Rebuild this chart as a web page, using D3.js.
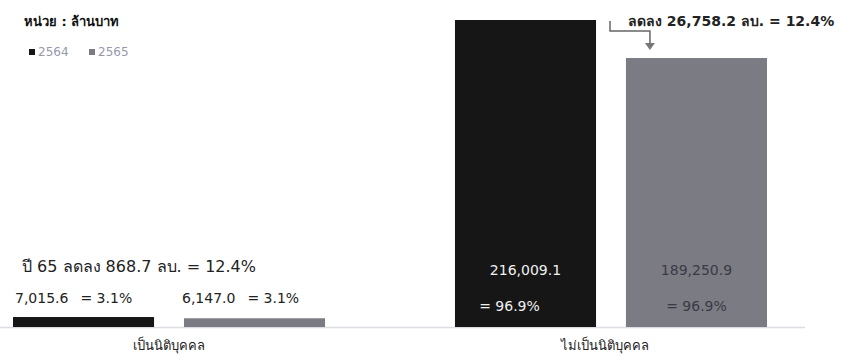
<!DOCTYPE html>
<html><head><meta charset="utf-8">
<script src="https://cdn.jsdelivr.net/npm/d3@7"></script>
<style>
body{margin:0;background:#fff;}
svg{display:block;font-family:"DejaVu Sans", Verdana, sans-serif;}
</style></head>
<body><svg id="c" width="849" height="360"></svg>
<script>
const categories = ["เป็นนิติบุคคล", "ไม่เป็นนิติบุคคล"];
const years = ["2564", "2565"];
const values2564 = [7015.6, 216009.1];
const values2565 = [6147.0, 189250.9];
const shares2564 = ["3.1%", "96.9%"];
const shares2565 = ["3.1%", "96.9%"];
const unitLabel = "หน่วย : ล้านบาท";
const changeNotes = ["ปี 65 ลดลง 868.7 ลบ. = 12.4%", "ลดลง 26,758.2 ลบ. = 12.4%"];

const colors = {"2564": "#161616", "2565": "#7b7b84"};
const svg = d3.select("#c");
const fmt = d3.format(",.1f");

const x0 = d3.scaleBand().domain(categories).range([13, 767]).paddingInner(0.294).paddingOuter(0);
const x1 = d3.scaleBand().domain(years).range([0, x0.bandwidth()]).paddingInner(0.175).paddingOuter(0);
const y = d3.scaleLinear().domain([0, d3.max(values2564)]).range([327, 20]);

const data = categories.map((c, i) => ({
  cat: c,
  vals: [
    {year: "2564", v: values2564[i], s: shares2564[i]},
    {year: "2565", v: values2565[i], s: shares2565[i]}
  ]
}));

// baseline
svg.append("line").attr("x1", 0).attr("x2", 805).attr("y1", 327.5).attr("y2", 327.5)
  .attr("stroke", "#dcdde2").attr("stroke-width", 1.5);

const g = svg.selectAll("g.cat").data(data).join("g").attr("class", "cat")
  .attr("transform", d => `translate(${x0(d.cat)},0)`);

g.selectAll("rect").data(d => d.vals).join("rect")
  .attr("x", d => x1(d.year)).attr("width", x1.bandwidth())
  .attr("y", d => y(d.v)).attr("height", d => y(0) - y(d.v))
  .attr("fill", d => colors[d.year]);

// category labels
const xAxis = d3.axisBottom(x0).tickSize(0).tickPadding(0);
const ax = svg.append("g").attr("transform", "translate(0,341)").call(xAxis);
ax.select(".domain").remove();
ax.selectAll("text").attr("font-size", 13).attr("fill", "#222")
  .attr("dx", (d, i) => i === 0 ? 0 : -6);

// small bars labels (outside, above)
const small = data[0];
small.vals.forEach(d => {
  const t = svg.append("text")
    .attr("x", x0(small.cat) + x1(d.year) + (d.year === "2564" ? 2 : -2))
    .attr("y", 303).attr("font-size", 14).attr("fill", "#222");
  t.append("tspan").text(fmt(d.v));
  t.append("tspan").attr("dx", 12).text("= " + d.s);
});

// big bars labels (inside)
const big = data[1];
big.vals.forEach(d => {
  const cx = x0(big.cat) + x1(d.year) + x1.bandwidth() / 2;
  const col = d.year === "2564" ? "#f0f0f0" : "#3a3a44";
  svg.append("text").attr("x", cx).attr("y", 275).attr("text-anchor", "middle")
    .attr("font-size", 14).attr("fill", col).text(fmt(d.v));
  svg.append("text").attr("x", cx - (d.year === "2564" ? 16 : 0)).attr("y", 311).attr("text-anchor", "middle")
    .attr("font-size", 14).attr("fill", col).text("= " + d.s);
});

// change notes
svg.append("text").attr("x", 22).attr("y", 272).attr("font-size", 16).attr("fill", "#222").text(changeNotes[0]);
svg.append("text").attr("x", 628).attr("y", 26).attr("font-size", 14).attr("font-weight", "bold").attr("fill", "#222").text(changeNotes[1]);

// arrow
const ax0 = x0(big.cat) + x1("2564") + x1.bandwidth() + 14;
const ax1 = x0(big.cat) + x1("2565") + 24;
svg.append("path").attr("d", `M${ax0},21 V31 H${ax1} V44`).attr("fill", "none")
  .attr("stroke", "#666").attr("stroke-width", 1.5);
svg.append("path").attr("d", `M${ax1 - 5},43 L${ax1 + 5},43 L${ax1},50 Z`).attr("fill", "#777");

// unit & legend
svg.append("text").attr("x", 24).attr("y", 26).attr("font-size", 13).attr("font-weight", "bold").attr("fill", "#111").text(unitLabel);
const lg = svg.append("g").attr("transform", "translate(29,49)");
let lx = 0;
years.forEach((yr, i) => {
  lg.append("rect").attr("x", lx).attr("y", 0).attr("width", 6).attr("height", 6).attr("fill", colors[yr]);
  lg.append("text").attr("x", lx + 9).attr("y", 7).attr("font-size", 12).attr("fill", "#9499aa").text(yr);
  lx += 60;
});
</script></body></html>
